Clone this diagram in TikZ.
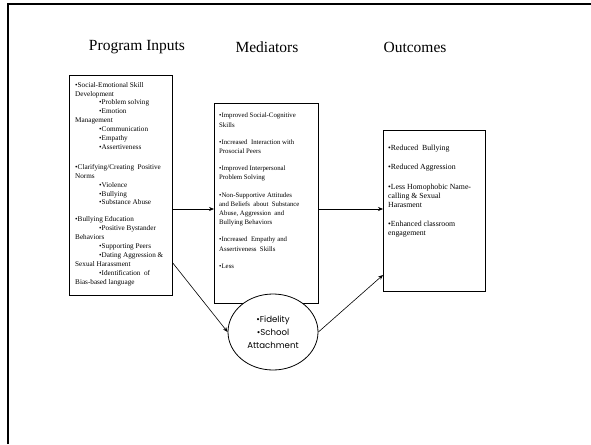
\documentclass[tikz,border=0pt]{standalone}
\usepackage{fontspec}
\setmainfont{Liberation Serif}
\newfontfamily\gothic{Poppins}
\usetikzlibrary{shapes.geometric,arrows.meta}
\begin{document}
\begin{tikzpicture}[x=1pt,y=-1pt,
  box/.style={draw,line width=0.8pt,inner sep=0pt,anchor=north west},
  txt/.style={inner sep=0pt,anchor=north west,align=left},
  small/.style={font=\fontsize{7.2}{8.9}\selectfont},
  mid/.style={font=\fontsize{6.8}{9.2}\selectfont},
  big/.style={font=\fontsize{7.8}{9.2}\selectfont},
  arr/.style={-{Stealth[length=5pt,width=4pt]},line width=0.6pt},
  title/.style={inner sep=0pt,font=\fontsize{15.5}{18}\selectfont}]
\useasboundingbox (0,0) rectangle (591,444);
\draw[line width=2pt] (7.5,444) -- (7.5,4.5) -- (591,4.5);

% titles
\node[title] (t1) at (137,47) {Program Inputs};
\node[title] (t2) at (267,47) {Mediators};
\node[title] (t3) at (415,47) {Outcomes};

% boxes
\node[box,minimum width=103pt,minimum height=220pt] (inputs) at (69,75) {};
\node[box,minimum width=104pt,minimum height=200pt] (med) at (214,103) {};
\node[box,minimum width=102pt,minimum height=161pt] (out) at (383,130) {};

% texts
\node[txt,small] (inputsText) at (75,82) {%
\textbullet Social-Emotional Skill\\
Development\\
\hspace*{24pt}\textbullet Problem solving\\
\hspace*{24pt}\textbullet Emotion\\
Management\\
\hspace*{24pt}\textbullet Communication\\
\hspace*{24pt}\textbullet Empathy\\
\hspace*{24pt}\textbullet Assertiveness\\[11pt]
\textbullet Clarifying/Creating\ \ Positive\\
Norms\\
\hspace*{24pt}\textbullet Violence\\
\hspace*{24pt}\textbullet Bullying\\
\hspace*{24pt}\textbullet Substance Abuse\\[8pt]
\textbullet Bullying Education\\
\hspace*{24pt}\textbullet Positive Bystander\\
Behaviors\\
\hspace*{24pt}\textbullet Supporting Peers\\
\hspace*{24pt}\textbullet Dating Aggression \&\\
Sexual Harassment\\
\hspace*{24pt}\textbullet Identification\ \ of\\
Bias-based language};

\node[txt,mid] (medText) at (219,113) {%
\textbullet Improved Social-Cognitive\\
Skills\\[8pt]
\textbullet Increased\ \ Interaction with\\
Prosocial Peers\\[8pt]
\textbullet Improved Interpersonal\\
Problem Solving\\[8pt]
\textbullet Non-Supportive Attitudes\\
and Beliefs\ \ about\ \ Substance\\
Abuse, Aggression\ \ and\\
Bullying Behaviors\\[8pt]
\textbullet Increased\ \ Empathy and\\
Assertiveness\ \ Skills\\[8pt]
\textbullet Less};

\node[txt,big] (outText) at (388,145) {%
\textbullet Reduced\ \ Bullying\\[10pt]
\textbullet Reduced Aggression\\[10pt]
\textbullet Less Homophobic Name-\\
calling \& Sexual\\
Harasment\\[10pt]
\textbullet Enhanced classroom\\
engagement};

% arrows
\coordinate (h1) at (0,209);
\coordinate (d1) at (0,263);
\coordinate (d2) at (0,275);
\draw[arr] (inputs.east |- h1) -- (med.west |- h1);
\draw[arr] (med.east |- h1) -- (out.west |- h1);

% moderator ellipse
\node[ellipse,draw,line width=0.8pt,fill=white,minimum width=90pt,minimum height=76pt,inner sep=0pt,
  align=center,font=\gothic\fontsize{8.6}{13}\selectfont] (mod) at (273,332)
  {\textbullet Fidelity\\\textbullet School\\Attachment};
\draw[arr] (inputs.east |- d1) -- (mod.west);
\draw[arr] (mod.east) -- (out.west |- d2);
\end{tikzpicture}
\end{document}
